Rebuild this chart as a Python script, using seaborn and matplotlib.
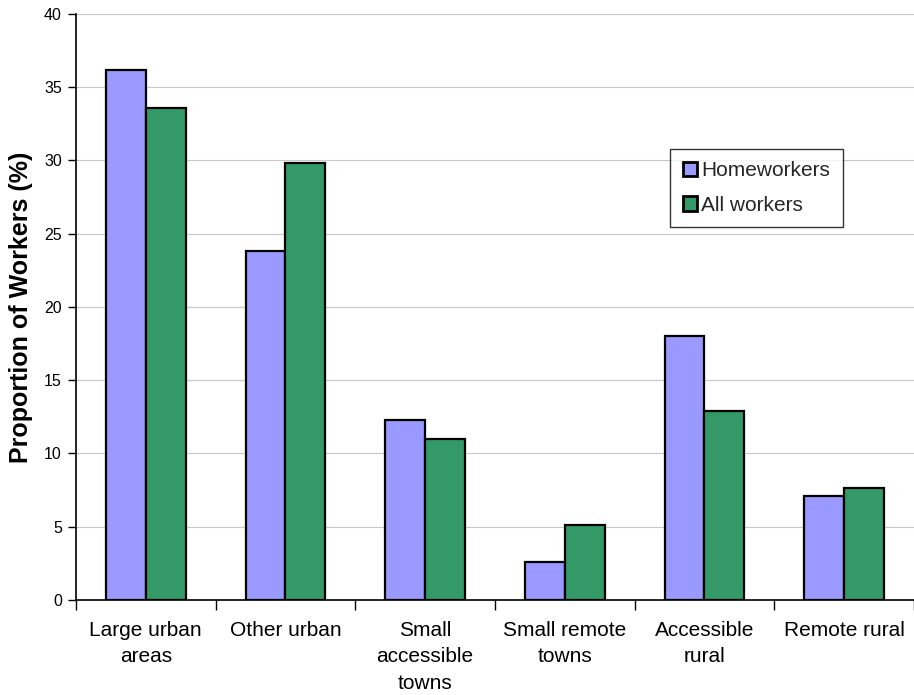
import pandas as pd
import numpy as np
import matplotlib.pyplot as plt
import seaborn as sns

categories = ['Large urban\nareas', 'Other urban', 'Small\naccessible\ntowns',
              'Small remote\ntowns', 'Accessible\nrural', 'Remote rural']
homeworkers = [36.2, 23.8, 12.3, 2.6, 18.0, 7.1]
all_workers = [33.6, 29.8, 11.0, 5.1, 12.9, 7.6]

df = pd.DataFrame({'area': categories * 2,
                   'value': homeworkers + all_workers,
                   'group': ['Homeworkers'] * 6 + ['All workers'] * 6})

sns.set_style('white')
plt.rcParams['font.family'] = ['Liberation Sans', 'DejaVu Sans']

fig = plt.figure(figsize=(9.14, 6.95), dpi=100)
ax = fig.add_axes([0.083, 0.137, 0.917, 0.843])

sns.barplot(data=df, x='area', y='value', hue='group', ax=ax,
            palette=['#9999FF', '#339966'], width=0.57,
            edgecolor='black', linewidth=1.6, saturation=1)

ax.set_ylim(0, 40)
ax.set_xlim(-0.5, 5.5)
ax.set_yticks(np.arange(0, 41, 5))
ax.yaxis.grid(True, color='#c8c8c8', linewidth=0.8)
ax.set_axisbelow(True)
ax.set_xticks(np.arange(-0.5, 6, 1), minor=True)
ax.set_xticks(range(6))
ax.set_xticklabels(categories, fontsize=15, linespacing=1.5, color='black')
ax.tick_params(axis='x', which='major', bottom=True, length=0, pad=15)
ax.tick_params(axis='x', which='minor', bottom=True, length=7, width=1,
               color='black', direction='out')
ax.tick_params(axis='y', left=True, length=6, width=1, color='black',
               direction='out', labelsize=11.5, labelcolor='black', pad=4)
ax.set_xlabel('')
ax.set_ylabel('Proportion of Workers (%)', fontsize=18, fontweight='bold',
              labelpad=8, color='black')

for s in ['top', 'right']:
    ax.spines[s].set_visible(False)
for s in ['left', 'bottom']:
    ax.spines[s].set_color('black')
    ax.spines[s].set_linewidth(1.2)

leg = ax.legend(loc='upper left', bbox_to_anchor=(0.709, 0.77), fontsize=15,
                frameon=True, fancybox=False, edgecolor='black',
                handlelength=0.7, handleheight=0.7, handletextpad=0.2,
                borderpad=0.6, labelspacing=0.75, borderaxespad=0)
leg.get_frame().set_linewidth(1)
for h in leg.legend_handles:
    h.set_linewidth(2)

fig.savefig('out.png', dpi=100)
